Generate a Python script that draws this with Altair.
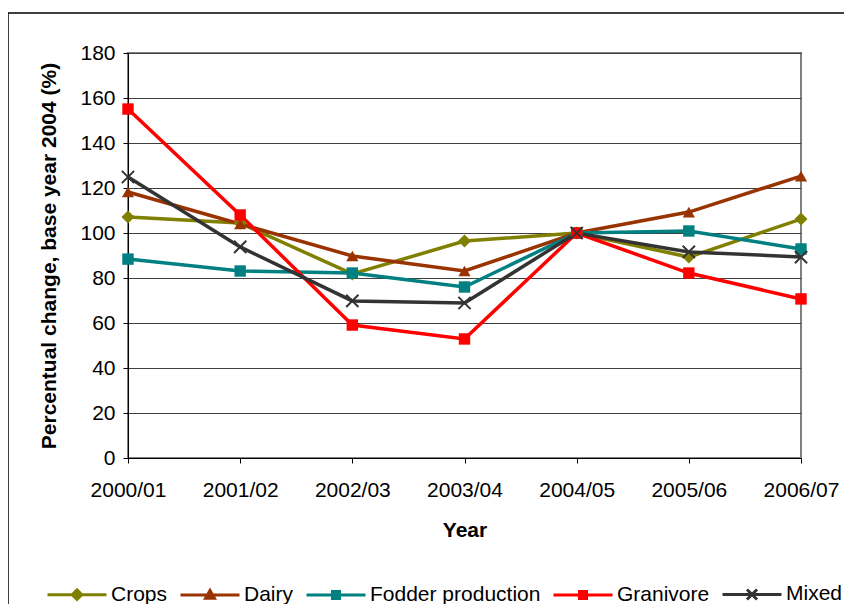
import altair as alt
import pandas as pd

years = ["2000/01", "2001/02", "2002/03", "2003/04", "2004/05", "2005/06", "2006/07"]
series = ["Crops", "Dairy", "Fodder production", "Granivore", "Mixed"]
crops = [107.1, 104.4, 81.8, 96.4, 100, 89.3, 106.2]
dairy = [118.2, 104.0, 89.8, 83.1, 100, 109.3, 125.3]
fodder = [88.4, 83.1, 82.2, 76.0, 100, 100.9, 92.9]
granivore = [155.1, 108.0, 59.1, 52.9, 100, 82.2, 70.7]
mixed = [124.9, 93.8, 69.8, 68.9, 100, 91.6, 89.3]
colors = ["#808000", "#993300", "#008080", "#FF0000", "#333333"]
y_ticks = [0, 20, 40, 60, 80, 100, 120, 140, 160, 180]

values = [crops, dairy, fodder, granivore, mixed]
rows = []
for s, vals in zip(series, values):
    for yr, v in zip(years, vals):
        rows.append({"series": s, "year": yr, "value": v})
df = pd.DataFrame(rows)

FONT = "Liberation Sans"

# legend symbols: line segment with marker (unit square -1..1), stroke-only
legend_paths = [
    "M-1,0L1,0M0,-0.16L0.16,0L0,0.16L-0.16,0ZM-0.07,0L0.07,0M0,-0.07L0,0.07",
    "M-1,0L1,0M0,-0.15L0.15,0.11L-0.15,0.11ZM0,-0.05L0,0.08M-0.07,0.06L0.07,0.06",
    "M-1,0L1,0M-0.12,-0.12L0.12,-0.12L0.12,0.12L-0.12,0.12ZM-0.06,0L0.06,0",
    "M-1,0L1,0M-0.12,-0.12L0.12,-0.12L0.12,0.12L-0.12,0.12ZM-0.06,0L0.06,0",
    "M-1,0L1,0M-0.17,-0.17L0.17,0.17M-0.17,0.17L0.17,-0.17",
]
X_PATH = "M-1,-1L1,1M-1,1L1,-1"

leg = alt.Legend(
    orient="none", legendX=-82, legendY=510, direction="horizontal", title=None,
    symbolSize=3481, symbolStrokeWidth=3, symbolOpacity=1,
    labelFont=FONT, labelFontSize=21, labelColor="#000000", labelLimit=400,
    labelOffset=3, columnPadding=6,
)

x_enc = alt.X(
    "year:N", sort=years, title="Year",
    scale=alt.Scale(type="point", padding=0),
    axis=alt.Axis(labelAngle=0, grid=False, domainColor="#000000", tickColor="#000000",
                  tickSize=5, labelPadding=16, titlePadding=19),
)
y_enc = alt.Y(
    "value:Q", title="Percentual change, base year 2004 (%)",
    scale=alt.Scale(domain=[0, 180], nice=False),
    axis=alt.Axis(values=y_ticks, grid=True, gridColor="#404040", domainColor="#000000",
                  tickColor="#000000", tickSize=5, labelPadding=8, titlePadding=20),
)
color_enc = alt.Color("series:N", scale=alt.Scale(domain=series, range=colors), legend=leg)

base = alt.Chart(df)

lines = base.mark_line(strokeWidth=3.5).encode(
    x=x_enc, y=y_enc, color=color_enc, detail="series:N",
)

def marker_layer(names, shape, filled=True, size=150, sw=1):
    return base.transform_filter(
        alt.FieldOneOfPredicate(field="series", oneOf=names)
    ).mark_point(shape=shape, filled=filled, size=size, strokeWidth=sw, opacity=1).encode(
        x=x_enc, y=y_enc, color=color_enc,
    )

m_crops = marker_layer(["Crops"], "diamond", size=170)
m_dairy = marker_layer(["Dairy"], "triangle-up", size=150)
m_sq = marker_layer(["Fodder production", "Granivore"], "square", size=130)
m_mix = marker_layer(["Mixed"], X_PATH, filled=False, size=150, sw=2)

carrier = base.mark_point(filled=False, size=1, strokeWidth=0.1).encode(
    x=x_enc, y=y_enc, color=color_enc,
    shape=alt.Shape("series:N", scale=alt.Scale(domain=series, range=legend_paths), legend=leg),
)

frame = alt.Chart(pd.DataFrame({"a": [0]})).mark_rect(
    fill="transparent", stroke="#000000", strokeWidth=1.5
).encode(
    x=alt.value(-120), x2=alt.value(2000), y=alt.value(-40), y2=alt.value(2000)
)

chart = alt.layer(frame, lines, m_crops, m_dairy, m_sq, m_mix, carrier).properties(
    width=673, height=405,
    padding={"left": 120, "top": 45, "right": 43, "bottom": 146},
    autosize="none",
    background="#ffffff",
).configure_axis(
    labelFont=FONT, labelFontSize=21, labelColor="#000000",
    titleFont=FONT, titleFontSize=21, titleFontWeight="bold", titleColor="#000000",
).configure_view(
    stroke="#808080", strokeWidth=2
)

chart.save("out.html", embed_options={"renderer": "svg", "actions": False})
